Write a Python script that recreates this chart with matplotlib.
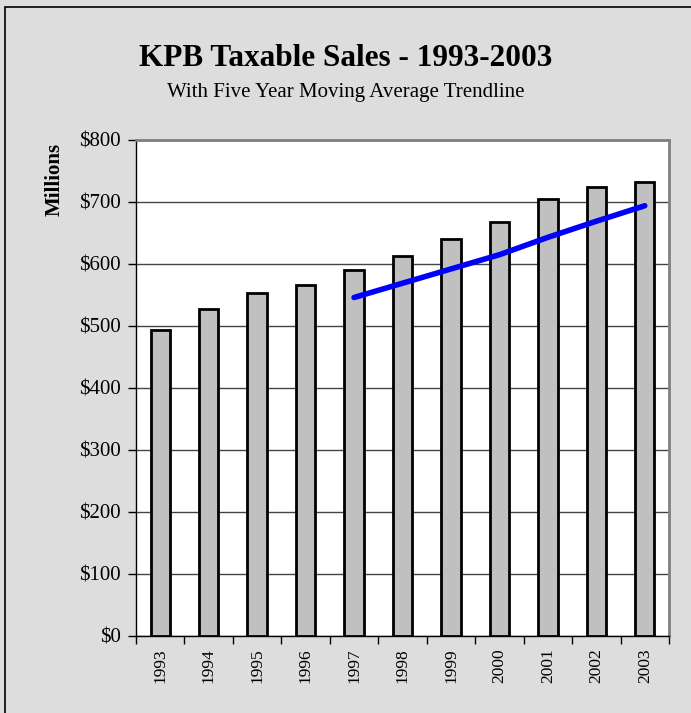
import numpy as np
import matplotlib.pyplot as plt
from matplotlib.patches import Rectangle
from matplotlib.ticker import FixedLocator, FuncFormatter

years = ["1993", "1994", "1995", "1996", "1997", "1998", "1999", "2000", "2001", "2002", "2003"]
sales = [493, 528, 553, 566, 591, 613, 641, 668, 705, 725, 732]
trend_years = ["1997", "1998", "1999", "2000", "2001", "2002", "2003"]
trend = [546, 569, 592, 615, 643, 669, 694]

plt.rcParams["font.family"] = ["Liberation Serif", "DejaVu Serif"]

fig = plt.figure(figsize=(6.91, 7.13), dpi=100)
fig.patch.set_facecolor("#dddddd")
fig.patches.append(Rectangle((5 / 691, -0.1), 1.2, 1.1 - 7 / 713, transform=fig.transFigure,
                             fill=False, edgecolor="black", linewidth=1.2))

ax = fig.add_axes([136 / 691, 77 / 713, 533 / 691, 496 / 713])
x = np.arange(len(years))
ax.bar(x, sales, width=0.4, color="#c0c0c0", edgecolor="black", linewidth=2, zorder=3)
tx = [years.index(y) for y in trend_years]
ax.plot(tx, trend, color="#0000ff", linewidth=4, solid_capstyle="round", zorder=4)

ax.set_xlim(-0.5, len(years) - 0.5)
ax.set_ylim(0, 800)
ax.set_yticks(range(0, 801, 100))
ax.yaxis.set_major_formatter(FuncFormatter(lambda v, p: f"${int(v)}"))
ax.grid(axis="y", color="#444444", linewidth=1, zorder=1)

ax.set_xticks(x)
ax.set_xticklabels(years, rotation=90, fontsize=12.5)
ax.tick_params(axis="x", which="major", length=0, pad=9)
ax.xaxis.set_minor_locator(FixedLocator(np.arange(-0.5, len(years), 1.0)))
ax.tick_params(axis="x", which="minor", length=6, width=1, direction="out")
ax.tick_params(axis="y", length=6, width=1, direction="out", pad=5, labelsize=15)

for s in ["top", "right"]:
    ax.spines[s].set_color("#808080")
    ax.spines[s].set_linewidth(2)
for s in ["left", "bottom"]:
    ax.spines[s].set_color("black")
    ax.spines[s].set_linewidth(1)

fig.text(55 / 691, 1 - 179 / 713, "Millions", rotation=90, ha="center", va="center",
         fontsize=15, fontweight="bold")

fig.text(0.5, 1 - 59 / 713, "KPB Taxable Sales - 1993-2003", ha="center", va="center",
         fontsize=22.5, fontweight="bold")
fig.text(0.5, 1 - 93 / 713, "With Five Year Moving Average Trendline", ha="center", va="center",
         fontsize=15)

fig.savefig("out.png", dpi=100, facecolor=fig.get_facecolor())
